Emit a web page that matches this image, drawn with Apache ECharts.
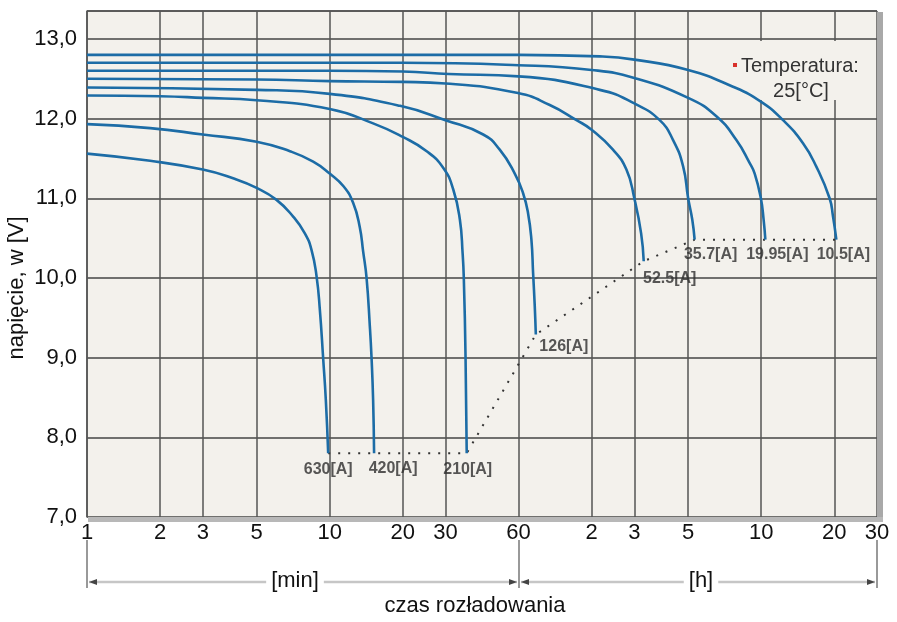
<!DOCTYPE html>
<html>
<head>
<meta charset="utf-8">
<script src="https://cdn.jsdelivr.net/npm/echarts@6/dist/echarts.min.js"></script>
<style>
html,body{margin:0;padding:0;background:#fff;}
#chart{width:897px;height:622px;}
</style>
</head>
<body>
<div id="chart"></div>
<script>
// ---- data (time in minutes, voltage in V) ----
var xTicks = [1, 2, 3, 5, 10, 20, 30, 60, 120, 180, 300, 600, 1200, 1800];
var yTicks = [7, 8, 9, 10, 11, 12, 13];

var c630 = [[1,11.56],[1.82,11.47],[3,11.36],[4,11.25],[5,11.13],[6.04,10.98],[7.07,10.77],[7.9,10.56],[8.42,10.35],[8.83,10.02],[9.11,9.60],[9.40,8.99],[9.64,8.47],[9.86,7.80]];
var c420 = [[1,11.93],[1.82,11.88],[3,11.80],[5,11.71],[6.86,11.59],[8.55,11.46],[10,11.31],[11.4,11.15],[12.5,10.94],[13.3,10.64],[13.74,10.33],[14.19,10.0],[14.64,9.39],[14.88,8.99],[15.1,8.47],[15.24,7.80]];
var c210 = [[1,12.29],[2,12.28],[3,12.26],[5,12.23],[10,12.12],[15.1,11.94],[20,11.77],[25.1,11.59],[29.4,11.38],[32.3,11.11],[34.4,10.73],[35.3,10.31],[35.7,10.0],[36.3,8.99],[36.7,7.80]];
var c126 = [[1,12.39],[5,12.36],[10,12.31],[19.5,12.16],[30,11.98],[42.9,11.80],[50.2,11.61],[57.9,11.31],[62.7,11.06],[65.7,10.81],[67.8,10.48],[68.9,10.06],[70,9.64],[70.7,9.29]];
var c52_5 = [[1,12.50],[5,12.49],[10,12.47],[20,12.46],[30,12.44],[59.7,12.32],[80.7,12.17],[104,11.98],[120,11.86],[147,11.61],[167,11.36],[180,11.0],[192,10.56],[196.8,10.21]];
var c35_7 = [[1,12.60],[10,12.60],[20,12.59],[31,12.56],[60,12.53],[129.7,12.36],[180,12.19],[229,11.98],[260,11.73],[286,11.40],[300,11.0],[312,10.73],[319,10.48]];
var c19_95 = [[1,12.70],[20,12.70],[60,12.67],[120,12.61],[180,12.51],[300,12.26],[392,12.03],[474,11.73],[538,11.44],[564,11.31],[598,11.0],[614,10.73],[624,10.48]];
var c10_5 = [[1,12.80],[60,12.80],[129.7,12.78],[180,12.74],[300,12.61],[459,12.40],[600,12.21],[738,11.98],[892,11.69],[1011,11.40],[1148,11.0],[1186,10.77],[1224,10.48]];

var curveNames = ['630[A]', '420[A]', '210[A]', '126[A]', '52.5[A]', '35.7[A]', '19.95[A]', '10.5[A]'];
var curves = [c630, c420, c210, c126, c52_5, c35_7, c19_95, c10_5];

// ---- presentation ----
var FONT = '"Liberation Sans", Arial, sans-serif';
var LINE = '#1c6ca6';
var labelOffsets = [[0,16],[19,15],[1,16],[28,12],[26,17],[16,15],[12,15],[7,15]];

var series = curves.map(function (c, i) {
  return {
    name: curveNames[i], type: 'line', data: c, showSymbol: false, symbol: 'none',
    smooth: 0.5,
    lineStyle: { color: LINE, width: 2.6 }, z: 3, silent: true
  };
});

var ends = curves.map(function (c) { return c[c.length - 1]; });
series.push({
  name: 'end', type: 'line', data: ends, symbol: 'none', silent: true,
  lineStyle: { color: '#333', width: 2, type: [2, 8] }, z: 2
});
series.push({
  name: 'labels', type: 'scatter', silent: true, symbolSize: 1,
  itemStyle: { color: 'rgba(0,0,0,0)' }, z: 4,
  data: ends.map(function (p, i) {
    return {
      value: p,
      label: {
        show: true, position: 'inside', offset: labelOffsets[i],
        formatter: curveNames[i], fontFamily: FONT, fontWeight: 'bold',
        fontSize: 16, color: '#2e2e2e'
      }
    };
  })
});

function fmtX(v) {
  var r = Math.round(v);
  return r <= 60 ? String(r) : String(Math.round(r / 60));
}

var option = {
  animation: false,
  backgroundColor: '#ffffff',
  grid: { left: 87, right: 20, top: 11, bottom: 105, show: true, backgroundColor: '#f3f1ec', borderWidth: 0 },
  xAxis: {
    type: 'log', logBase: 10, min: 1, max: 1800,
    axisLine: { show: false },
    axisTick: { show: false, customValues: xTicks },
    axisLabel: { customValues: xTicks, formatter: fmtX, fontFamily: FONT, fontSize: 22, color: '#111', margin: 5, showMinLabel: true, showMaxLabel: true },
    splitLine: { show: true, lineStyle: { color: '#555', width: 1.5 } },
    minorTick: { show: false }, minorSplitLine: { show: false }
  },
  yAxis: {
    type: 'value', min: 7, max: 13.35, interval: 1,
    axisLine: { show: true, lineStyle: { color: '#555', width: 1.5 } },
    axisTick: { show: false },
    axisLabel: { fontFamily: FONT, fontSize: 22, color: '#111', margin: 10, showMaxLabel: false,
      formatter: function (v) { return Math.abs(v - Math.round(v)) > 1e-6 ? '' : v.toFixed(1).replace('.', ','); } },
    splitLine: { show: true, lineStyle: { color: '#444', width: 1.5 } }
  },
  graphic: [
    { type: 'rect', z: 1, shape: { x: 738, y: 41, width: 134, height: 59 }, style: { fill: '#f3f1ec' } },
    { type: 'line', z: 5, shape: { x1: 87, y1: 11, x2: 877, y2: 11 }, style: { stroke: '#555', lineWidth: 1.5 } },
    { type: 'rect', z: 5, shape: { x: 877, y: 12, width: 6, height: 510 }, style: { fill: '#a9a9a9' } },
    { type: 'rect', z: 5, shape: { x: 88, y: 517, width: 795, height: 5 }, style: { fill: '#b8b8b8' } },
    { type: 'rect', z: 5, shape: { x: 733, y: 63, width: 4, height: 4 }, style: { fill: '#d8312b' } },
    { type: 'text', z: 5, x: 741, y: 66, style: { text: 'Temperatura:', font: '20px ' + FONT, fill: '#333', align: 'left', verticalAlign: 'middle' } },
    { type: 'text', z: 5, x: 801, y: 91, style: { text: '25[°C]', font: '20px ' + FONT, fill: '#333', align: 'center', verticalAlign: 'middle' } },
    { type: 'text', z: 5, x: 17, y: 288, rotation: Math.PI / 2, style: { text: 'napięcie, w [V]', font: '22px ' + FONT, fill: '#111', align: 'center', verticalAlign: 'middle' } },
    { type: 'text', z: 5, x: 475, y: 606, style: { text: 'czas rozładowania', font: '22px ' + FONT, fill: '#111', align: 'center', verticalAlign: 'middle' } },
    { type: 'line', shape: { x1: 87, y1: 540, x2: 87, y2: 588 }, style: { stroke: '#999', lineWidth: 2 } },
    { type: 'line', shape: { x1: 519, y1: 540, x2: 519, y2: 588 }, style: { stroke: '#999', lineWidth: 2 } },
    { type: 'line', shape: { x1: 877, y1: 540, x2: 877, y2: 588 }, style: { stroke: '#999', lineWidth: 2 } },
    { type: 'line', shape: { x1: 89, y1: 582, x2: 517, y2: 582 }, style: { stroke: '#c6c6c6', lineWidth: 2.5 } },
    { type: 'line', shape: { x1: 521, y1: 582, x2: 875, y2: 582 }, style: { stroke: '#c6c6c6', lineWidth: 2.5 } },
    { type: 'polygon', shape: { points: [[89,582],[97,579],[97,585]] }, style: { fill: '#444' } },
    { type: 'polygon', shape: { points: [[517,582],[509,579],[509,585]] }, style: { fill: '#444' } },
    { type: 'polygon', shape: { points: [[521,582],[529,579],[529,585]] }, style: { fill: '#444' } },
    { type: 'polygon', shape: { points: [[875,582],[867,579],[867,585]] }, style: { fill: '#444' } },
    { type: 'text', z: 5, x: 295, y: 581, style: { text: '[min]', font: '22px ' + FONT, fill: '#111', align: 'center', verticalAlign: 'middle', backgroundColor: '#fff', padding: [0, 5] } },
    { type: 'text', z: 5, x: 701, y: 581, style: { text: '[h]', font: '22px ' + FONT, fill: '#111', align: 'center', verticalAlign: 'middle', backgroundColor: '#fff', padding: [0, 5] } }
  ],
  series: series
};

var chart = echarts.init(document.getElementById('chart'), null, { renderer: 'canvas' });
chart.setOption(option);
</script>
</body>
</html>
